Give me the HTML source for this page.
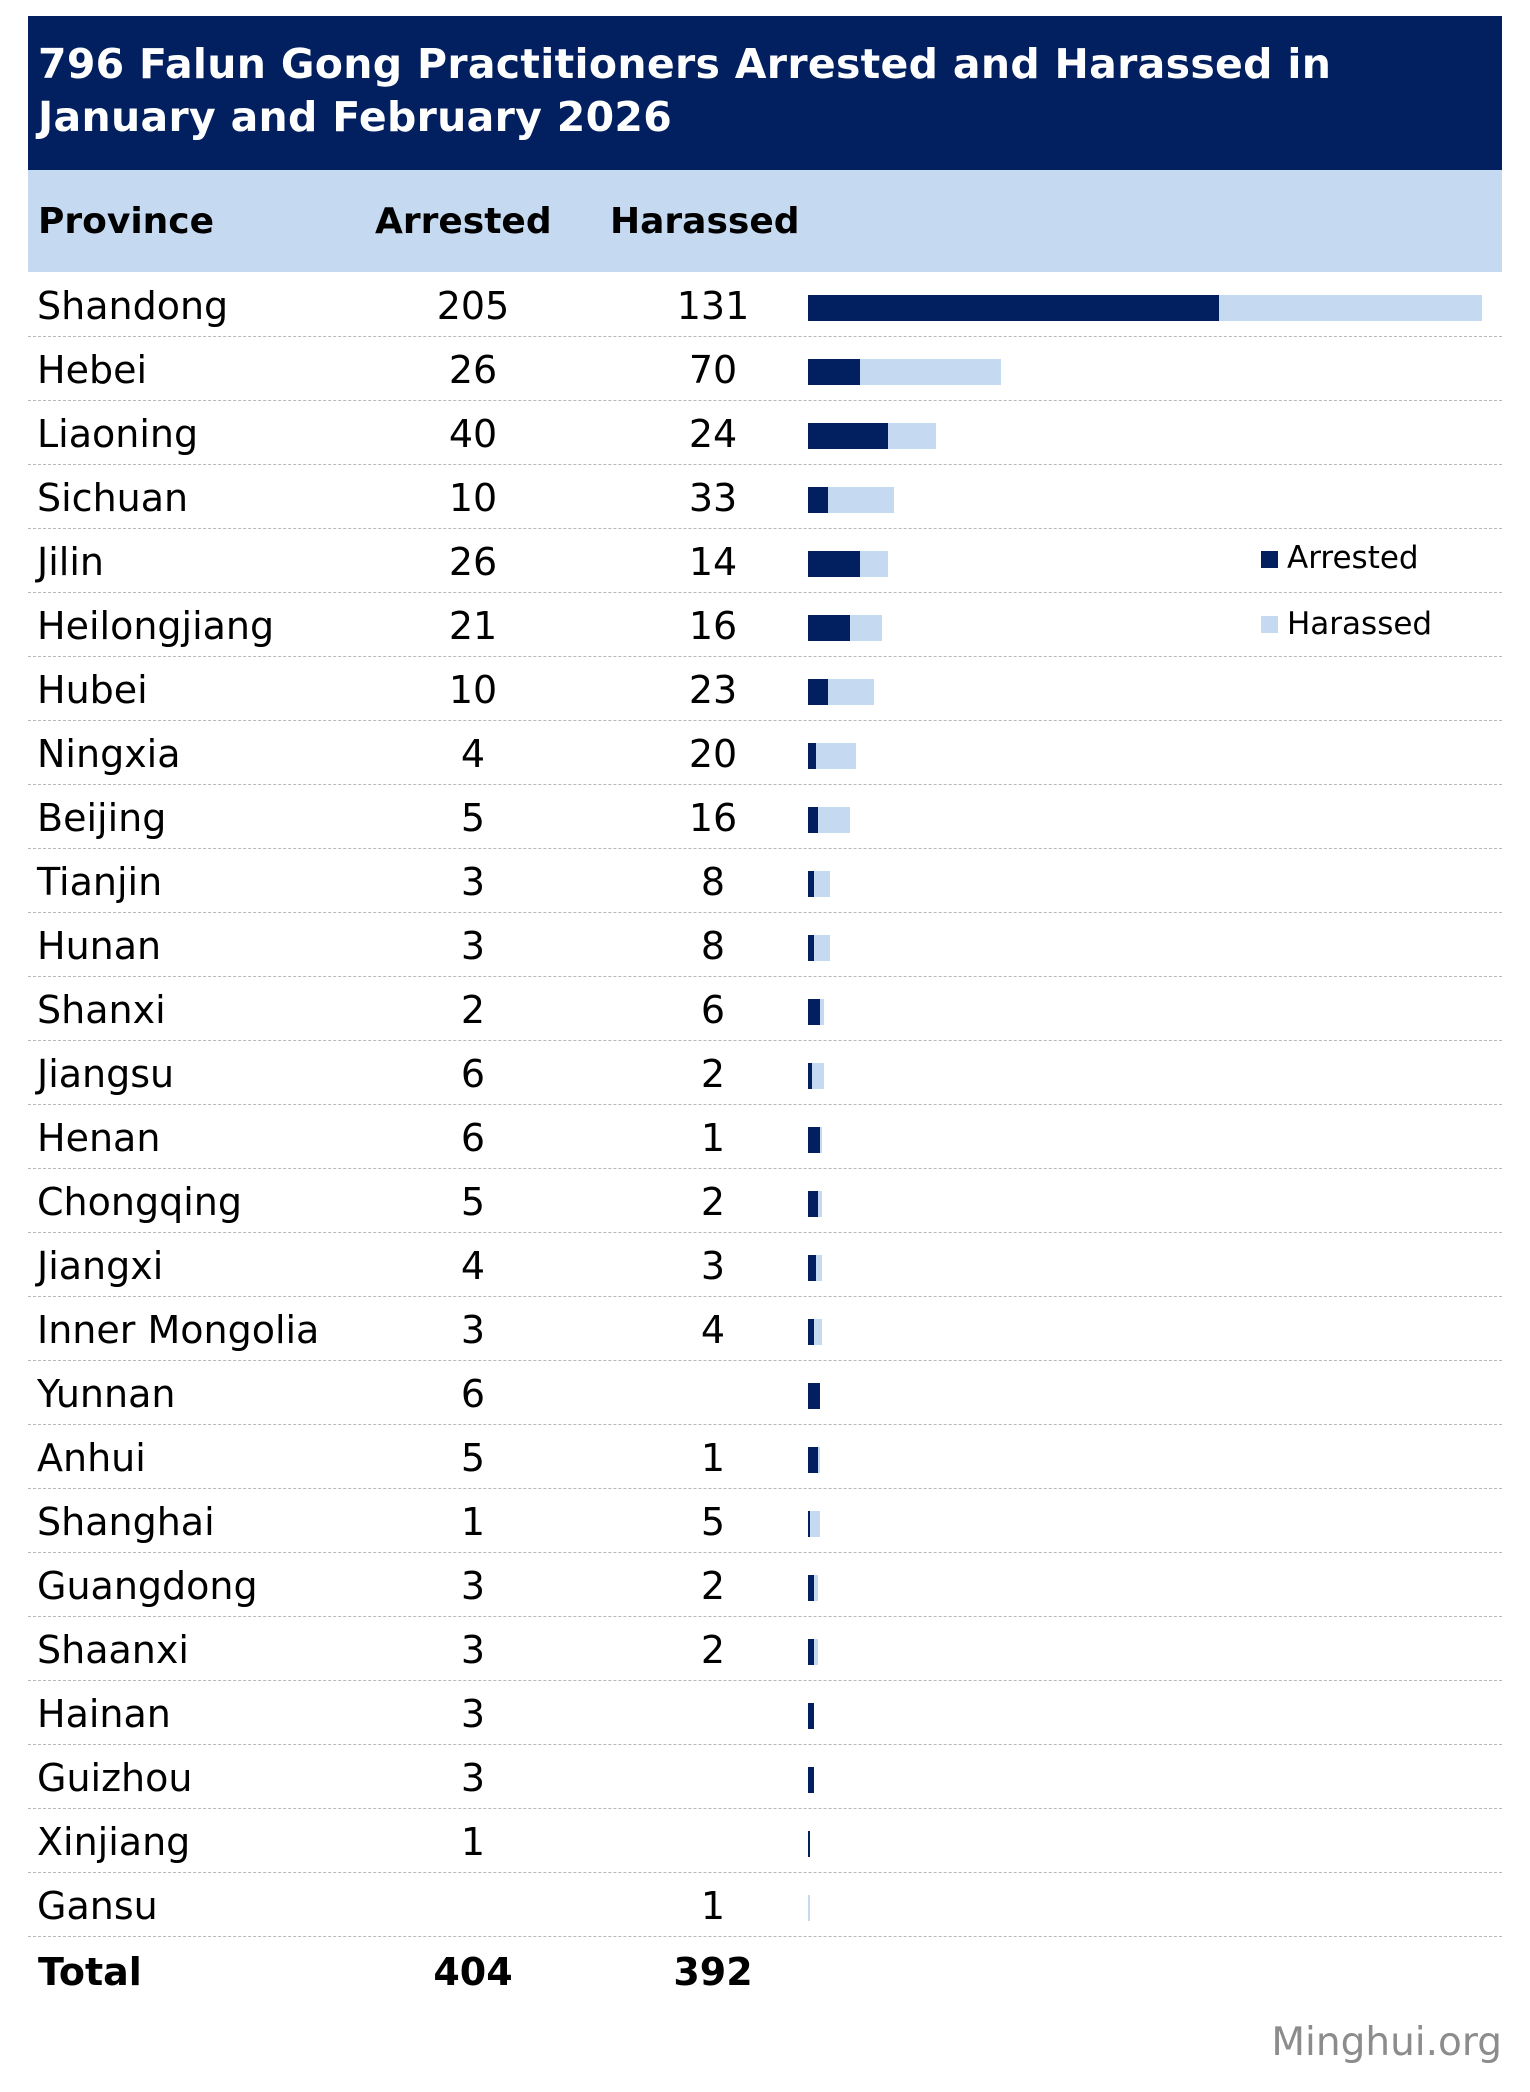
<!DOCTYPE html>
<html><head><meta charset="utf-8"><style>
body{margin:0;width:1530px;height:2092px;background:#fff;position:relative;font-family:"DejaVu Sans","Liberation Sans",sans-serif;overflow:hidden}
.t{position:absolute;left:28px;top:16px;width:1474px;height:154px;background:#021f5f;color:#fff;font-weight:bold;font-size:41px;line-height:53px;box-sizing:border-box;padding:22px 0 0 10px;letter-spacing:0.3px;white-space:nowrap}
.h{position:absolute;left:28px;top:170px;width:1474px;height:102px;background:#c5d9f0}
.hx{position:absolute;top:197px;font-weight:bold;font-size:36px;line-height:50px;color:#000}
.r{position:absolute;left:28px;width:1474px;height:64px;border-bottom:1px dashed #b8b8b8;box-sizing:border-box}
.c{position:absolute;font-size:38px;line-height:64px;top:1px;color:#000;white-space:nowrap}
.n1{left:395px;width:100px;text-align:center}
.n2{left:635px;width:100px;text-align:center}
.b{position:absolute;height:26px}
.a{background:#021f5f}.s{background:#c5d9f0}
</style></head><body>
<div class="t">796 Falun Gong Practitioners Arrested and Harassed in<br>January and February 2026</div>
<div class="h"></div>
<div class="hx" style="left:38px">Province</div>
<div class="hx" style="left:375px">Arrested</div>
<div class="hx" style="left:610px">Harassed</div>
<div id="rows"></div>
<div style="position:absolute;left:1261px;top:551px;width:17px;height:17px;background:#021f5f"></div>
<div style="position:absolute;left:1287px;top:539px;font-size:31px;line-height:38px">Arrested</div>
<div style="position:absolute;left:1261px;top:616px;width:17px;height:17px;background:#c5d9f0"></div>
<div style="position:absolute;left:1287px;top:605px;font-size:31px;line-height:38px">Harassed</div>
<div class="c" style="left:38px;top:1940px;font-weight:bold">Total</div>
<div class="c" style="left:423px;width:100px;text-align:center;top:1940px;font-weight:bold">404</div>
<div class="c" style="left:663px;width:100px;text-align:center;top:1940px;font-weight:bold">392</div>
<div style="position:absolute;right:28px;top:2020px;font-size:39px;color:#8c8c8c">Minghui.org</div>
<script>
var d=[["Shandong",205,131],["Hebei",26,70],["Liaoning",40,24],["Sichuan",10,33],["Jilin",26,14],["Heilongjiang",21,16],["Hubei",10,23],["Ningxia",4,20],["Beijing",5,16],["Tianjin",3,8],["Hunan",3,8],["Shanxi",2,6,6,2],["Jiangsu",6,2,2,6],["Henan",6,1],["Chongqing",5,2],["Jiangxi",4,3],["Inner Mongolia",3,4],["Yunnan",6,0],["Anhui",5,1],["Shanghai",1,5],["Guangdong",3,2],["Shaanxi",3,2],["Hainan",3,0],["Guizhou",3,0],["Xinjiang",1,0],["Gansu",0,1]];
var h="";
d.forEach(function(r,i){var top=273+64*i;
h+='<div class="r" style="top:'+top+'px"><div class="c" style="left:9px">'+r[0]+'</div><div class="c n1">'+(r[1]||"")+'</div><div class="c n2">'+(r[2]||"")+'</div></div>';
var bt=295+64*i;var A=r.length>3?r[3]:r[1],H=r.length>3?r[4]:r[2];
if(A)h+='<div class="b a" style="left:808px;top:'+bt+'px;width:'+(A*2.006)+'px"></div>';
if(H)h+='<div class="b s" style="left:'+(808+A*2.006)+'px;top:'+bt+'px;width:'+(H*2.006)+'px"></div>';
});
document.getElementById("rows").innerHTML=h;
</script>
</body></html>
